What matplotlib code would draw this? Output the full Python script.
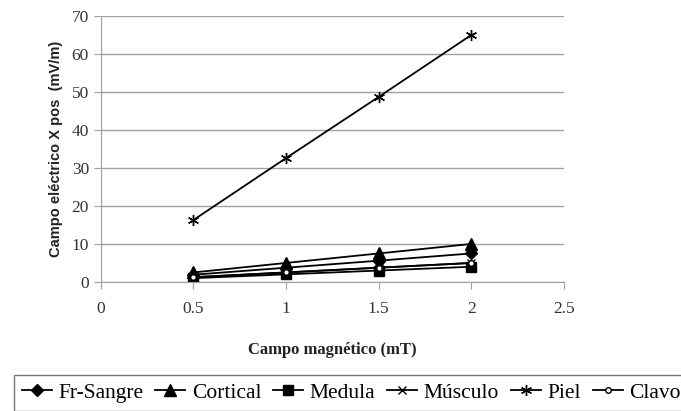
import matplotlib
matplotlib.use('Agg')
import matplotlib.pyplot as plt
from matplotlib.font_manager import FontProperties

SERIF = 'Liberation Serif'
SANS = 'Liberation Sans'

campo = [0.5, 1, 1.5, 2]
fr_sangre = [1.9, 3.75, 5.6, 7.5]
cortical = [2.5, 5.0, 7.5, 10.0]
medula = [1.0, 2.0, 3.0, 4.0]
musculo = [1.25, 2.5, 3.75, 5.0]
piel = [16.3, 32.6, 48.7, 65.0]
clavo = [1.25, 2.5, 3.75, 5.0]

series = [
    ('Fr-Sangre', fr_sangre, 'D', 6),
    ('Cortical', cortical, '^', 8),
    ('Medula', medula, 's', 7),
    ('Músculo', musculo, 'x', 6),
    ('Piel', piel, (6, 2, 0), 8),
    ('Clavo', clavo, 'o', 4),
]

fig = plt.figure(figsize=(6.81, 4.11), dpi=100)
ax = fig.add_axes([0.148, 0.314, 0.680, 0.647])

for name, vals, mk, ms in series:
    mfc = 'white' if mk == 'o' else 'black'
    ax.plot(campo, vals, color='black', lw=1.3, marker=mk, markersize=ms,
            markerfacecolor=mfc, markeredgecolor='black', label=name)

ax.set_xlim(0, 2.5)
ax.set_ylim(0, 70)
ax.set_xticks([0, 0.5, 1, 1.5, 2, 2.5])
ax.set_yticks(range(0, 71, 10))
ax.set_xticklabels(['0', '0.5', '1', '1.5', '2', '2.5'], fontproperties=FontProperties(family=SERIF, size=12.5))
ax.set_yticklabels([str(v) for v in range(0, 71, 10)], fontproperties=FontProperties(family=SERIF, size=12.5))
ax.yaxis.grid(True, color='#a0a0a0', lw=1)
ax.set_axisbelow(True)
for s in ['top', 'right']:
    ax.spines[s].set_visible(False)
for s in ['left', 'bottom']:
    ax.spines[s].set_color('#a0a0a0')
ax.tick_params(colors='#a0a0a0', labelcolor='#333333', length=5)
ax.tick_params(axis='x', pad=9)

ax.set_xlabel('Campo magnético (mT)',
              fontproperties=FontProperties(family=SERIF, weight='bold', size=12),
              labelpad=18, color='#222222')
ax.set_ylabel('Campo eléctrico X pos  (mV/m)',
              fontproperties=FontProperties(family=SANS, weight='bold', size=10.5),
              labelpad=6, color='#222222')

leg = fig.legend(loc='lower left', bbox_to_anchor=(0.005, -0.025), ncol=6,
                 prop=FontProperties(family=SERIF, size=15.5),
                 frameon=True, fancybox=False, handlelength=1.4, handletextpad=0.3,
                 columnspacing=0.55, borderpad=0.35)
leg.get_frame().set_edgecolor('#555555')
leg.get_frame().set_linewidth(1)

fig.savefig('out.png', dpi=100)
